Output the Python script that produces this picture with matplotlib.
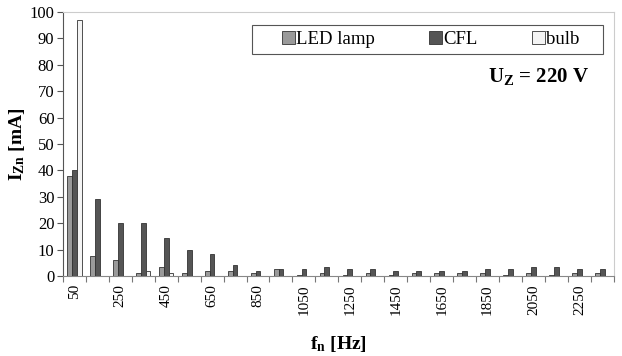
import numpy as np
import matplotlib
matplotlib.use("Agg")
import matplotlib.pyplot as plt
from matplotlib.patches import Rectangle
from matplotlib.ticker import MultipleLocator

plt.rcParams['font.family'] = ['Liberation Serif', 'DejaVu Serif']
plt.rcParams['mathtext.fontset'] = 'custom'
plt.rcParams['mathtext.rm'] = 'Liberation Serif'
plt.rcParams['mathtext.bf'] = 'Liberation Serif:bold'
plt.rcParams['mathtext.it'] = 'Liberation Serif:italic'

# harmonic frequencies (Hz)
freqs = [50, 150, 250, 350, 450, 550, 650, 750, 850, 950, 1050, 1150,
         1250, 1350, 1450, 1550, 1650, 1750, 1850, 1950, 2050, 2150, 2250, 2350]

# current per harmonic (mA)
led_lamp = [37.8, 7.5, 6.0, 1.0, 3.3, 1.0, 1.8, 1.8, 1.0, 2.6, 0.2, 1.0,
            0.3, 1.0, 0.3, 1.0, 1.0, 1.0, 1.0, 0.2, 1.0, 0.2, 1.0, 1.0]
cfl = [40.0, 29.3, 20.0, 20.0, 14.5, 10.0, 8.2, 4.3, 1.8, 2.6, 2.6, 3.4,
       2.5, 2.5, 1.8, 1.8, 1.8, 1.8, 2.5, 2.5, 3.4, 3.4, 2.5, 2.5]
bulb = [97.0, 0, 0, 1.8, 1.0, 0, 0, 0, 0, 0, 0, 0,
        0, 0, 0, 0, 0, 0, 0, 0, 0, 0, 0, 0]

series = [('LED lamp', led_lamp, '#9a9a9a'),
          ('CFL', cfl, '#555555'),
          ('bulb', bulb, '#f4f4f4')]

fig = plt.figure(figsize=(6.22, 3.56), dpi=100)
ax = fig.add_axes([0.101, 0.225, 0.886, 0.741])

x = np.arange(len(freqs))
w = 0.21
for i, (name, vals, col) in enumerate(series):
    ax.bar(x + (i - 1) * w, vals, width=w, color=col, edgecolor='#333333',
           linewidth=0.6, label=name, zorder=3)

ax.set_xlim(-0.5, len(freqs) - 0.5)
ax.set_ylim(0, 100)
ax.yaxis.set_major_locator(MultipleLocator(10))
ax.tick_params(axis='y', direction='out', length=4, width=0.8, color='#555555',
               labelsize=12, pad=2)

ax.set_xticks(x[::2])
ax.set_xticklabels([str(f) for f in freqs[::2]], rotation=90, fontsize=11)
ax.set_xticks(np.arange(-0.5, len(freqs) + 0.5, 1), minor=True)
ax.tick_params(axis='x', which='major', length=0, pad=6)
ax.tick_params(axis='x', which='minor', direction='out', length=4, width=0.8,
               color='#777777')

for side in ['top', 'right']:
    ax.spines[side].set_color('#cccccc')
    ax.spines[side].set_linewidth(0.8)
ax.spines['left'].set_color('#555555')
ax.spines['bottom'].set_color('#888888')

ax.set_xlabel(r'$\mathbf{f_n}$ [Hz]', fontsize=14, fontweight='bold', labelpad=14)
ax.set_ylabel(r'$\mathbf{I_{Zn}}$ [mA]', fontsize=14, fontweight='bold', labelpad=2)

# legend box drawn separately so the entries can sit spread out inside it
ax.add_patch(Rectangle((0.344, 0.841), 0.636, 0.110, transform=ax.transAxes,
                       facecolor='white', edgecolor='#555555', linewidth=0.8,
                       zorder=4))
leg = ax.legend(loc='center', bbox_to_anchor=(0.667, 0.896), ncol=3,
                fontsize=13.5, frameon=False, handlelength=0.7,
                handleheight=0.7, handletextpad=0.05, columnspacing=2.9,
                borderpad=0, borderaxespad=0)
leg.set_zorder(5)

ax.text(0.955, 0.755, r'U$_\mathbf{Z}$ = 220 V', transform=ax.transAxes,
        ha='right', va='center', fontsize=15, fontweight='bold')

fig.savefig('out.png', dpi=100)
